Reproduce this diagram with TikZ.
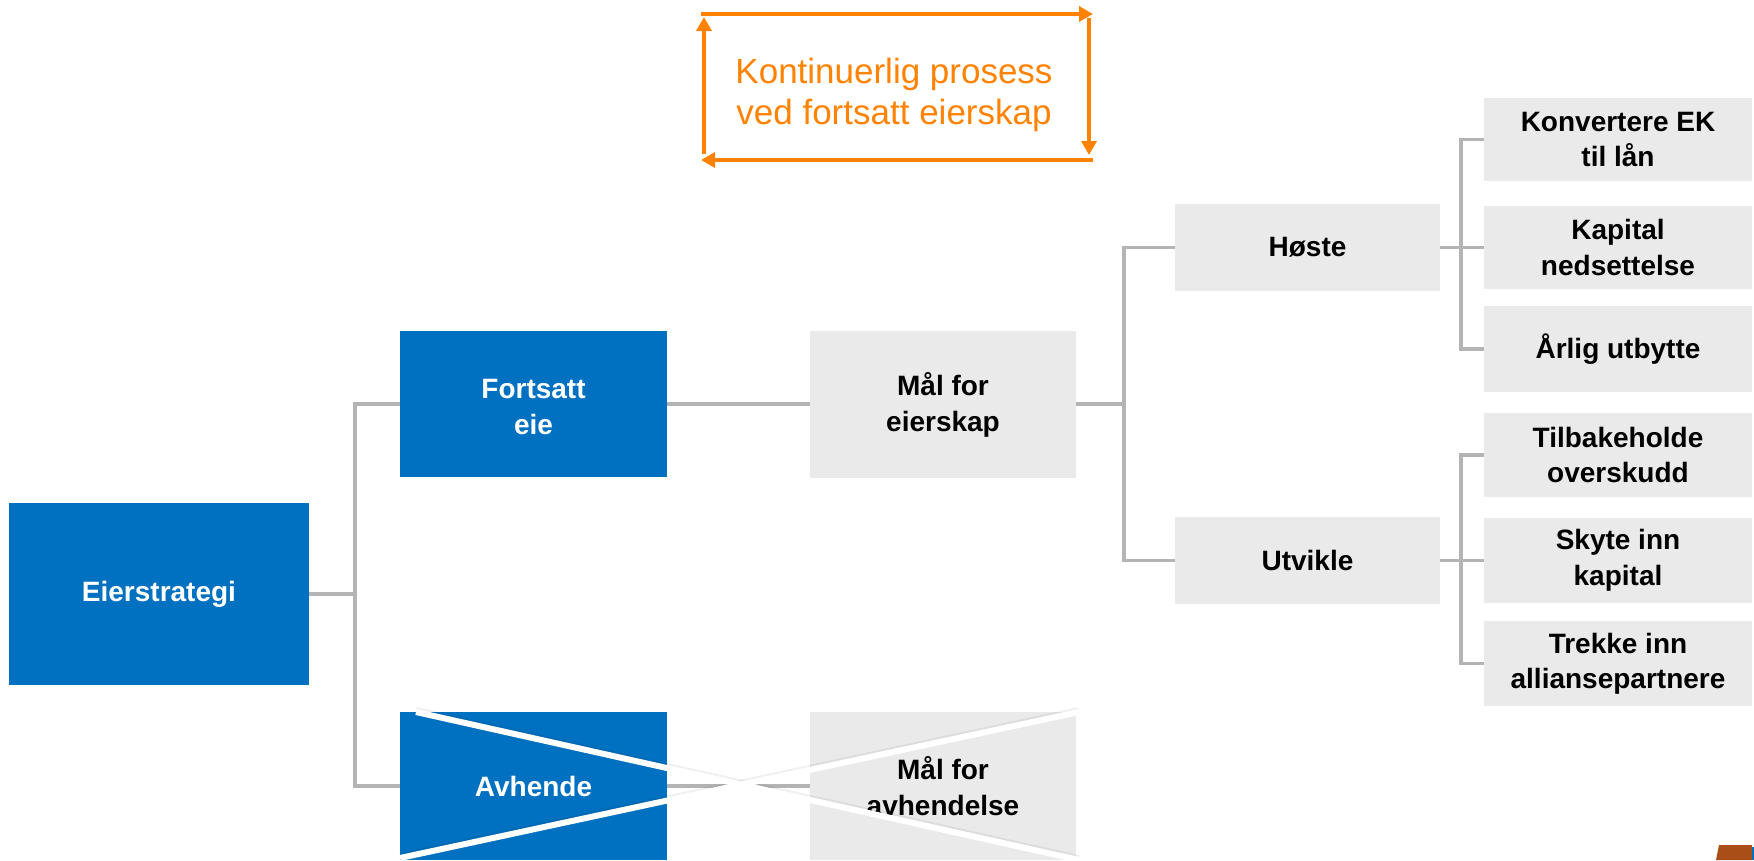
\documentclass[tikz,border=0pt]{standalone}
\usepackage{fontspec}
\setmainfont{Liberation Sans}
\usetikzlibrary{arrows.meta}
\definecolor{bblue}{RGB}{0,112,192}
\definecolor{bgray}{RGB}{234,234,234}
\definecolor{lgray}{RGB}{180,180,180}
\definecolor{orng}{RGB}{255,130,0}
\definecolor{brwn}{RGB}{168,78,22}
\begin{document}
\begin{tikzpicture}[x=1pt,y=-1pt,
  basebox/.style={inner sep=0pt, outer sep=0pt, align=center,
    font=\bfseries\fontsize{28}{35.5}\selectfont},
  bluebox/.style={basebox, fill=bblue, text=white},
  graybox/.style={basebox, fill=bgray, text=black},
  conn/.style={draw=lgray, line width=3.2pt},
  oarr/.style={draw=orng, line width=3.5pt, -{Triangle[length=14pt,width=15pt]}},
  cross/.style={draw=white, line width=6pt},
  crossshadow/.style={draw=black, opacity=0.06, line width=6pt}]
\useasboundingbox (0,0) rectangle (1754,860);

% main boxes
\node[bluebox, minimum width=300pt, minimum height=182pt] (es) at (159,594) {Eierstrategi};
\node[bluebox, minimum width=267pt, minimum height=146pt] (fe) at (533.5,404) {\strut Fortsatt\\eie};
\node[bluebox, minimum width=267pt, minimum height=148pt] (av) at (533.5,786) {Avhende};
\node[graybox, minimum width=266pt, minimum height=147pt] (me) at (943,404) {\strut Mål for\\eierskap};
\node[graybox, minimum width=266pt, minimum height=148pt] (ma) at (943,786) {Mål for\\avhendelse};
\node[graybox, minimum width=265pt, minimum height=87pt] (ho) at (1307.5,247.5) {Høste};
\node[graybox, minimum width=265pt, minimum height=87pt] (ut) at (1307.5,560.5) {Utvikle};

\node[graybox, minimum width=268pt, minimum height=83pt] (r1) at (1618,139.5) {Konvertere EK\\til lån};
\node[graybox, minimum width=268pt, minimum height=83pt] (r2) at (1618,247.5) {Kapital\\nedsettelse};
\node[graybox, minimum width=268pt, minimum height=86pt] (r3) at (1618,349) {Årlig utbytte};
\node[graybox, minimum width=268pt, minimum height=84pt] (r4) at (1618,455) {Tilbakeholde\\overskudd};
\node[graybox, minimum width=268pt, minimum height=85pt] (r5) at (1618,560.5) {Skyte inn\\kapital};
\node[graybox, minimum width=268pt, minimum height=85pt] (r6) at (1618,663.5) {Trekke inn\\alliansepartnere};

% connectors
\coordinate (j1) at (355,594);
\coordinate (j2) at (1124,404);
\coordinate (j3) at (1461,247.5);
\coordinate (j4) at (1461,560.5);
\draw[conn] (es.east) -- (j1);
\draw[conn] (fe.west) -| (j1) |- (av.west);
\draw[conn] (fe.east) -- (me.west);
\draw[conn] (av.east) -- (ma.west);
\draw[conn] (me.east) -- (j2);
\draw[conn] (ho.west) -| (j2) |- (ut.west);
\draw[conn] (ho.east) -- (r2.west);
\draw[conn] (r1.west) -| (j3) |- (r3.west);
\draw[conn] (ut.east) -- (r5.west);
\draw[conn] (r4.west) -| (j4) |- (r6.west);

% orange continuous process
\node[text=orng, align=center, inner sep=0pt, font=\fontsize{35}{41}\selectfont] (ot) at (894,95)
  {Kontinuerlig prosess\\ved fortsatt eierskap};
\coordinate (o1) at (701,14);
\coordinate (o2) at (1093,14);
\coordinate (o3) at (1089,18);
\coordinate (o4) at (1089,155);
\coordinate (o5) at (1093,160);
\coordinate (o6) at (701,160);
\coordinate (o7) at (704,154);
\coordinate (o8) at (704,17);
\draw[oarr] (o1) -- (o2);
\draw[oarr] (o3) -- (o4);
\draw[oarr] (o5) -- (o6);
\draw[oarr] (o7) -- (o8);

% white cross over the disposal branch
\coordinate (c1) at (416,712);
\coordinate (c2) at (1079,860);
\coordinate (c3) at (400,858);
\coordinate (c4) at (1079,712);
\draw[crossshadow] ([yshift=2pt]c1) -- ([yshift=2pt]c2);
\draw[crossshadow] ([yshift=2pt]c3) -- ([yshift=2pt]c4);
\draw[cross] (c1) -- (c2);
\draw[cross] (c3) -- (c4);

% cut-off logo fragment at the corner
\fill[brwn] (1719,845) -- (1752,845) -- (1752,860) -- (1716,860) -- cycle;
\fill[bblue] (1752,847) rectangle (1754,860);
\end{tikzpicture}
\end{document}
